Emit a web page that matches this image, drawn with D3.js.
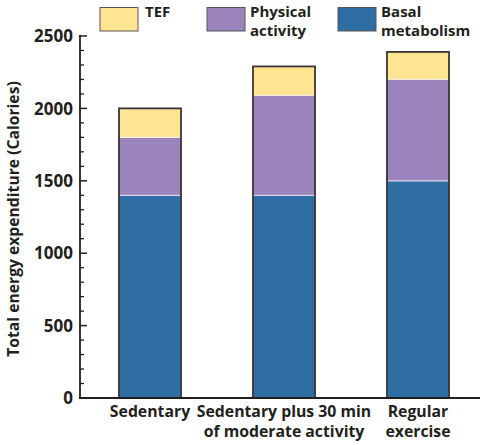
<!DOCTYPE html>
<html>
<head>
<meta charset="utf-8">
<script src="https://cdn.jsdelivr.net/npm/d3@7"></script>
<style>
  html, body { margin: 0; padding: 0; background: #fff; }
  svg { display: block; }
  text { font-family: "Open Sans", "DejaVu Sans", sans-serif; font-weight: 700; fill: #231f20; }
</style>
</head>
<body>
<svg id="chart" width="485" height="445"></svg>
<script>
const categories = ["Sedentary", "Sedentary plus 30 min|of moderate activity", "Regular|exercise"];
const basal = [1400, 1400, 1500];
const physical = [400, 690, 700];
const tef = [200, 200, 190];
const seriesNames = ["Basal|metabolism", "Physical|activity", "TEF"];
const yTicks = [0, 500, 1000, 1500, 2000, 2500];

const colors = { basal: "#2e6ea2", physical: "#9b84bc", tef: "#fee592" };

const svg = d3.select("#chart");
const x = d3.scaleBand().domain(categories).range([83, 485]).paddingInner(0.537).paddingOuter(0.2685);
const y = d3.scaleLinear().domain([0, 2500]).range([398, 36]);

const rows = categories.map((c, i) => ({ cat: c, basal: basal[i], physical: physical[i], tef: tef[i] }));
const keys = ["basal", "physical", "tef"];
const stack = d3.stack().keys(keys)(rows);

// segments
const g = svg.append("g");
stack.forEach(layer => {
  g.selectAll(null).data(layer).enter().append("rect")
    .attr("x", d => x(d.data.cat))
    .attr("width", x.bandwidth())
    .attr("y", d => y(d[1]))
    .attr("height", d => y(d[0]) - y(d[1]))
    .attr("fill", colors[layer.key]);
});
// light separators
const sepColor = { basal: "#d9d3ee", physical: "#f4ecd6" };
stack.slice(0, 2).forEach(layer => {
  g.selectAll(null).data(layer).enter().append("line")
    .attr("x1", d => x(d.data.cat)).attr("x2", d => x(d.data.cat) + x.bandwidth())
    .attr("y1", d => y(d[1])).attr("y2", d => y(d[1]))
    .attr("stroke", sepColor[layer.key]).attr("stroke-width", 1.2);
});
// outlines
const topLayer = stack[stack.length - 1];
g.selectAll(null).data(topLayer).enter().append("rect")
  .attr("x", d => x(d.data.cat))
  .attr("width", x.bandwidth())
  .attr("y", d => y(d[1]))
  .attr("height", d => y(0) - y(d[1]))
  .attr("fill", "none").attr("stroke", "#3a3536").attr("stroke-width", 1.8);

// y axis
const ax = svg.append("g").attr("transform", "translate(80,0)");
ax.append("line").attr("x1", 0).attr("x2", 0).attr("y1", y(2500) - 1).attr("y2", y(0)).attr("stroke", "#231f20").attr("stroke-width", 1.8);
const minor = d3.range(0, 2501, 100).filter(v => v % 500 !== 0);
ax.selectAll(null).data(minor).enter().append("line")
  .attr("x1", 0).attr("x2", 4).attr("y1", d => y(d)).attr("y2", d => y(d))
  .attr("stroke", "#231f20").attr("stroke-width", 1.3);
ax.selectAll(null).data(yTicks).enter().append("line")
  .attr("x1", -1).attr("x2", 7).attr("y1", d => y(d)).attr("y2", d => y(d))
  .attr("stroke", "#231f20").attr("stroke-width", 1.5);
ax.selectAll(null).data(yTicks).enter().append("text")
  .attr("x", -7).attr("y", d => y(d)).attr("dy", "0.36em")
  .attr("text-anchor", "end").attr("font-size", 17)
  .text(d => d);

// x axis
svg.append("line").attr("x1", 79).attr("x2", 480).attr("y1", y(0)).attr("y2", y(0))
  .attr("stroke", "#231f20").attr("stroke-width", 1.8);
const xl = svg.append("g");
categories.forEach(c => {
  const cx = x(c) + x.bandwidth() / 2;
  c.split("|").forEach((ln, i) => xl.append("text").attr("text-anchor", "middle").attr("font-size", 15.8)
    .attr("x", cx).attr("y", 417 + i * 20).text(ln));
});

// y label
svg.append("text").attr("transform", "translate(19,219) rotate(-90)")
  .attr("text-anchor", "middle").attr("font-size", 15.7)
  .text("Total energy expenditure (Calories)");

// legend
const legend = [
  { name: seriesNames[2], key: "tef", x: 100, tx: 145 },
  { name: seriesNames[1], key: "physical", x: 207, tx: 250 },
  { name: seriesNames[0], key: "basal", x: 338, tx: 381 }
];
legend.forEach(l => {
  svg.append("rect").attr("x", l.x).attr("y", 7.5).attr("width", 38).attr("height", 23.5)
    .attr("fill", colors[l.key]).attr("stroke", "#5a5556").attr("stroke-width", 1);
  l.name.split("|").forEach((ln, i) => svg.append("text").attr("font-size", 15)
    .attr("x", l.tx).attr("y", 16.5 + i * 19).text(ln));
});
</script>
</body>
</html>
